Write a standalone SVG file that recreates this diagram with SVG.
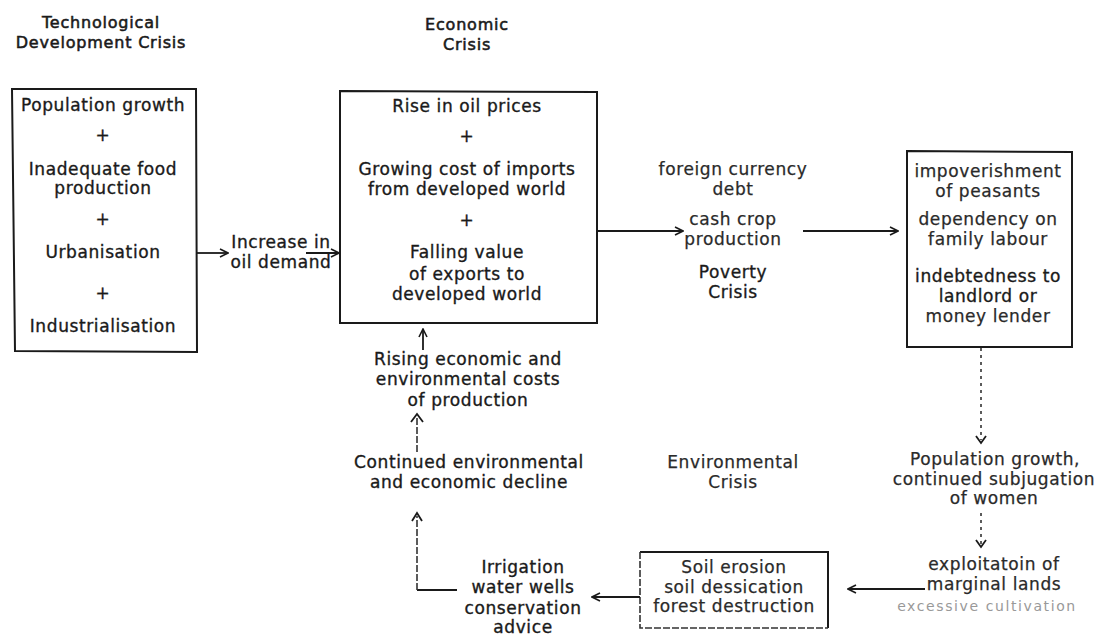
<svg xmlns="http://www.w3.org/2000/svg" width="1094" height="635" viewBox="0 0 1094 635">
<style>
text{font-family:"DejaVu Sans","Liberation Sans",sans-serif;font-size:17px;letter-spacing:0.6px;fill:#1a1a1a;stroke:#1a1a1a;stroke-width:0.35;text-anchor:middle}
.h{font-size:16px;letter-spacing:0.8px;stroke-width:0.55}
.f{fill:#2a2a2a;stroke:#2a2a2a;stroke-width:0.25}
.faint{fill:#999;stroke:none;font-size:14px;letter-spacing:1.6px}
.box{fill:none;stroke:#1a1a1a;stroke-width:2}
.ln{fill:none;stroke:#1a1a1a;stroke-width:1.8}
.dot{fill:none;stroke:#333;stroke-width:1.6;stroke-dasharray:3 4}
.dash{fill:none;stroke:#333;stroke-width:1.6;stroke-dasharray:7 2}
</style>
<defs>
<marker id="ah" viewBox="0 0 10 10" refX="9" refY="5" markerWidth="10" markerHeight="10" markerUnits="userSpaceOnUse" orient="auto">
<path d="M1,1 L9,5 L1,9" fill="none" stroke="#1a1a1a" stroke-width="1.6"/>
</marker>
</defs>
<rect width="1094" height="635" fill="#fff"/>

<g id="headings">
<text class="h" x="101" y="28">Technological</text>
<text class="h" x="101" y="48">Development Crisis</text>
<text class="h" x="467" y="30">Economic</text>
<text class="h" x="467" y="50">Crisis</text>
</g>

<g id="tech-box">
<path class="box" d="M12,89 L196,89 L197,352 L15,351 Z"/>
<text x="103" y="111">Population growth</text>
<text x="103" y="141">+</text>
<text x="103" y="175">Inadequate food</text>
<text x="103" y="194">production</text>
<text x="103" y="225">+</text>
<text x="103" y="258">Urbanisation</text>
<text x="103" y="299">+</text>
<text x="103" y="332">Industrialisation</text>
</g>

<g id="oil-demand">
<text x="281" y="248">Increase in</text>
<text x="281" y="268">oil demand</text>
</g>

<g id="econ-box">
<path class="box" d="M340,91 L597,92 L597,323 L340,323 Z"/>
<text x="467" y="112">Rise in oil prices</text>
<text x="467" y="142">+</text>
<text x="467" y="175">Growing cost of imports</text>
<text x="467" y="195">from developed world</text>
<text x="467" y="226">+</text>
<text x="467" y="258">Falling value</text>
<text x="467" y="280">of exports to</text>
<text x="467" y="300">developed world</text>
</g>

<g id="poverty">
<text class="f" x="733" y="175">foreign currency</text>
<text class="f" x="733" y="195">debt</text>
<text class="f" x="733" y="225">cash crop</text>
<text class="f" x="733" y="245">production</text>
<text x="733" y="278">Poverty</text>
<text x="733" y="298">Crisis</text>
</g>

<g id="peasant-box">
<path class="box" d="M907,151 L1072,152 L1072,347 L907,347 Z"/>
<text class="f" x="988" y="177">impoverishment</text>
<text class="f" x="988" y="197">of peasants</text>
<text class="f" x="988" y="225">dependency on</text>
<text class="f" x="988" y="245">family labour</text>
<text x="988" y="282">indebtedness to</text>
<text x="988" y="302">landlord or</text>
<text class="f" x="988" y="322">money lender</text>
</g>

<g id="population">
<text class="f" x="995" y="465">Population growth,</text>
<text class="f" x="994" y="485">continued subjugation</text>
<text class="f" x="994" y="504">of women</text>
</g>

<g id="marginal">
<text class="f" x="994" y="570">exploitatoin of</text>
<text class="f" x="994" y="590">marginal lands</text>
<text class="faint" x="987" y="611">excessive cultivation</text>
</g>

<g id="environmental">
<text class="f" x="733" y="468">Environmental</text>
<text class="f" x="733" y="488">Crisis</text>
</g>

<g id="soil-box">
<path class="box" d="M640,552 L828,552 L828,628"/>
<path class="dash" d="M640,552 L640,628 L828,628" stroke-width="2"/>
<text class="f" x="734" y="573">Soil erosion</text>
<text class="f" x="734" y="593">soil dessication</text>
<text class="f" x="734" y="612">forest destruction</text>
</g>

<g id="irrigation">
<text x="523" y="573">Irrigation</text>
<text x="523" y="593">water wells</text>
<text x="523" y="614">conservation</text>
<text x="523" y="633">advice</text>
</g>

<g id="decline">
<text x="469" y="468">Continued environmental</text>
<text x="469" y="488">and economic decline</text>
</g>

<g id="rising">
<text x="468" y="365">Rising economic and</text>
<text x="468" y="385">environmental costs</text>
<text x="468" y="406">of production</text>
</g>

<g id="connectors">
<path class="ln" d="M197,253 L228,253" marker-end="url(#ah)"/>
<path class="ln" d="M306,253 L339,253" marker-end="url(#ah)"/>
<path class="ln" d="M597,231 L683,231" marker-end="url(#ah)"/>
<path class="ln" d="M803,231 L898,231" marker-end="url(#ah)"/>
<path class="dot" d="M981,348 L981,440"/>
<path class="ln" d="M976,436 L981,443 L986,436"/>
<path class="dot" d="M981,513 L981,544"/>
<path class="ln" d="M976,540 L981,547 L986,540"/>
<path class="ln" d="M925,589 L848,589" marker-end="url(#ah)"/>
<path class="ln" d="M640,597 L592,597" marker-end="url(#ah)"/>
<path class="ln" d="M457,590 L417,590"/>
<path class="dash" d="M417,590 L417,516"/>
<path class="ln" d="M412,521 L417,513 L422,521"/>
<path class="dash" d="M417,452 L417,418"/>
<path class="ln" d="M411,422 L417,414 L423,422"/>
<path class="ln" d="M423,350 L423,329" marker-end="url(#ah)"/>
</g>
</svg>
